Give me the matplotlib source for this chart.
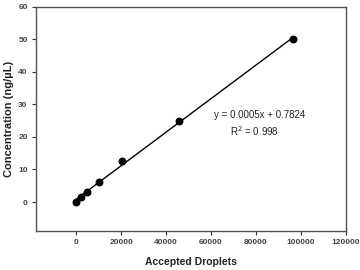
import numpy as np
import matplotlib
matplotlib.use("Agg")
import matplotlib.pyplot as plt

plt.rcParams['font.family'] = ['Liberation Sans', 'DejaVu Sans']

droplets = [0, 2300, 4900, 10200, 20400, 45800, 96500]
concentration = [0.0, 1.56, 3.125, 6.25, 12.5, 25.0, 50.0]
x_ticks = [0, 20000, 40000, 60000, 80000, 100000, 120000]
y_ticks = [0, 10, 20, 30, 40, 50, 60]

fig = plt.figure(figsize=(3.6, 2.7), dpi=100)
ax = fig.add_axes([36/360, 1-231/270, 310/360, 224.5/270])

coef = np.polyfit(droplets, concentration, 1)
xl = np.array([min(droplets), max(droplets)])
ax.plot(xl, np.polyval(coef, xl), color='black', lw=1.0, zorder=2)
ax.scatter(droplets, concentration, s=22, color='black', zorder=3)

ax.set_xlim(-17800, 120000)
ax.set_ylim(-8.9, 60)
ax.set_xticks(x_ticks)
ax.set_yticks(y_ticks)
ax.tick_params(axis='both', labelsize=6, direction='out', length=3, width=0.8,
               colors='#333333', pad=3)
for lab in ax.get_xticklabels() + ax.get_yticklabels():
    lab.set_fontweight('bold')
    lab.set_color('#444444')
for s in ax.spines.values():
    s.set_linewidth(1.0)
    s.set_color('#555555')

ax.set_xlabel('Accepted Droplets', fontsize=7.5, fontweight='bold', labelpad=8, color='#222222')
ax.set_ylabel('Concentration (ng/µL)', fontsize=8, fontweight='bold', labelpad=3, color='#222222')

ax.text(0.721, 0.517, 'y = 0.0005x + 0.7824', transform=ax.transAxes, fontsize=7, ha='center', va='center', color='#222222')
ax.text(0.705, 0.445, 'R$^2$ = 0.998', transform=ax.transAxes, fontsize=7, ha='center', va='center', color='#222222')

fig.savefig('out.png', dpi=100)
